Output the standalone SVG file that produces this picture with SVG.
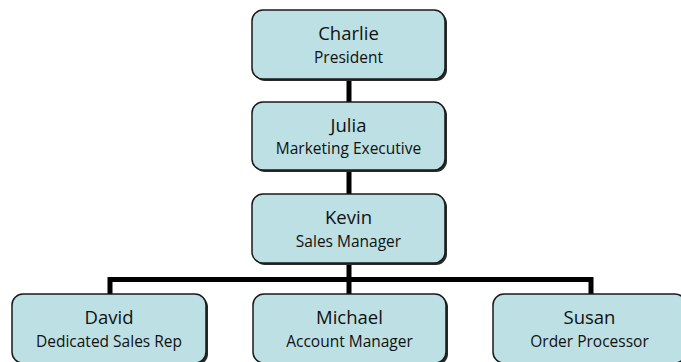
<svg xmlns="http://www.w3.org/2000/svg" width="681" height="362" viewBox="0 0 681 362">
<style>
.sh{fill:#2a2a2a}
.bx{fill:#bce0e3;stroke:#1a1a1a;stroke-width:1.5}
.nm{font-family:"Open Sans","Noto Sans",sans-serif;font-size:18.5px;fill:#111;text-anchor:middle}
.tt{font-family:"Open Sans","Noto Sans",sans-serif;font-size:15.5px;fill:#111;text-anchor:middle}
.cn{stroke:#000;stroke-width:5;fill:none}
</style>
<rect width="681" height="362" fill="#fff"/>
<g id="connectors">
<line class="cn" x1="349" y1="79" x2="349" y2="103"/>
<line class="cn" x1="349" y1="170" x2="349" y2="195"/>
<line class="cn" x1="349" y1="263" x2="349" y2="295"/>
<polyline class="cn" points="110,295 110,279.5 591,279.5 591,295"/>
</g>
<g id="charlie">
<rect class="sh" x="254" y="12" width="193" height="69" rx="11"/>
<rect class="bx" x="252" y="10" width="193" height="69" rx="11"/>
<text class="nm" x="348.5" y="40">Charlie</text>
<text class="tt" x="348.5" y="63">President</text>
</g>
<g id="julia">
<rect class="sh" x="254" y="104" width="193" height="68" rx="11"/>
<rect class="bx" x="252" y="102" width="193" height="68" rx="11"/>
<text class="nm" x="348.5" y="132">Julia</text>
<text class="tt" x="348.5" y="154">Marketing Executive</text>
</g>
<g id="kevin">
<rect class="sh" x="254" y="196" width="193" height="69" rx="11"/>
<rect class="bx" x="252" y="194" width="193" height="69" rx="11"/>
<text class="nm" x="348.5" y="224">Kevin</text>
<text class="tt" x="348.5" y="247">Sales Manager</text>
</g>
<g id="david">
<rect class="sh" x="14" y="296" width="194" height="69" rx="11"/>
<rect class="bx" x="12" y="294" width="194" height="69" rx="11"/>
<text class="nm" x="109" y="324">David</text>
<text class="tt" x="109" y="347">Dedicated Sales Rep</text>
</g>
<g id="michael">
<rect class="sh" x="255" y="296" width="193" height="69" rx="11"/>
<rect class="bx" x="253" y="294" width="193" height="69" rx="11"/>
<text class="nm" x="349.5" y="324">Michael</text>
<text class="tt" x="349.5" y="347">Account Manager</text>
</g>
<g id="susan">
<rect class="sh" x="495" y="296" width="193" height="69" rx="11"/>
<rect class="bx" x="493" y="294" width="193" height="69" rx="11"/>
<text class="nm" x="589.5" y="324">Susan</text>
<text class="tt" x="589.5" y="347">Order Processor</text>
</g>
</svg>
